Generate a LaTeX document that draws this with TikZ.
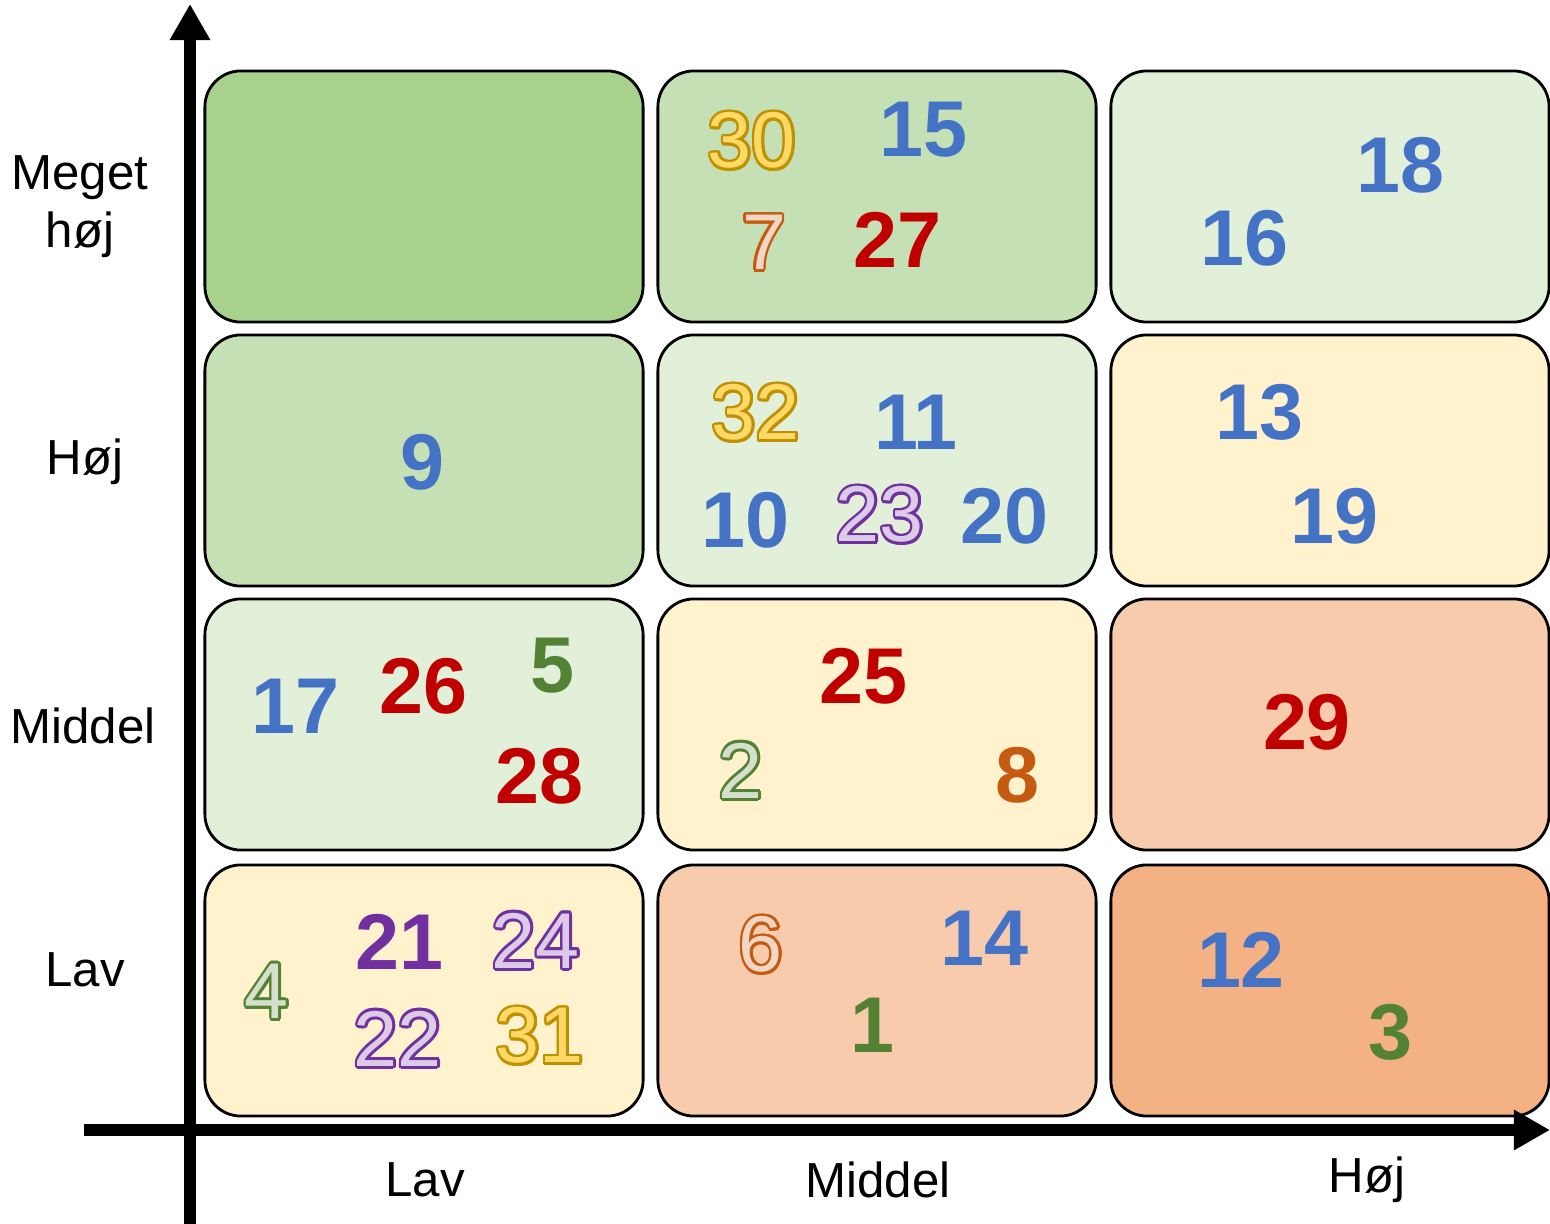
\documentclass[tikz,border=0pt]{standalone}
\usepackage{fontspec}
\setmainfont{Liberation Sans}
\usepackage{contour}
\usetikzlibrary{arrows.meta,positioning}
\definecolor{deepgreen}{HTML}{A9D18E}
\definecolor{midgreen}{HTML}{C5E0B4}
\definecolor{palegreen}{HTML}{E2F0D9}
\definecolor{paleyellow}{HTML}{FFF2CC}
\definecolor{salmon}{HTML}{F8CBAD}
\definecolor{peach}{HTML}{F4B183}
\definecolor{numblue}{HTML}{4472C4}
\definecolor{numred}{HTML}{C00000}
\definecolor{numgreen}{HTML}{548235}
\definecolor{numpurple}{HTML}{7030A0}
\definecolor{numorange}{HTML}{C55A11}
\definecolor{numgold}{HTML}{BF9000}
\definecolor{numyellow}{HTML}{FFD966}
\contourlength{0.8pt}
\newcommand{\goldnum}[1]{\textcolor{numyellow}{\contour{numgold}{#1}}}
\newcommand{\hatchnum}[2]{\textcolor{#1!25}{\contour{#1}{#2}}}
\tikzset{
  cell/.style={draw=black, line width=0.8pt, rounded corners=0.36cm,
               minimum width=4.38cm, minimum height=2.51cm, inner sep=0pt},
  num/.style={font=\fontsize{22.5}{26}\selectfont\bfseries, inner sep=0pt},
  onum/.style={font=\fontsize{22.5}{26}\selectfont, inner sep=0pt},
  axlbl/.style={font=\fontsize{14}{17}\selectfont, align=center},
  axis/.style={line width=0.12cm, -{Triangle[length=0.36cm, width=0.38cm]}}
}

\begin{document}
\begin{tikzpicture}[x=0.01cm,y=-0.01cm]
  \useasboundingbox (0,0) rectangle (1550,1224);

  % risk cells, row by row from the top
  \foreach \r/\yc/\ca/\cb/\cc in {1/196.5/deepgreen/midgreen/palegreen,
                                   2/460.5/midgreen/palegreen/paleyellow,
                                   3/724.5/palegreen/paleyellow/salmon,
                                   4/990.5/paleyellow/salmon/peach}{
    \node[cell, fill=\ca] (c\r1) at (424,\yc) {};
    \node[cell, fill=\cb] (c\r2) at (877,\yc) {};
    \node[cell, fill=\cc] (c\r3) at (1330,\yc) {};
  }

  % axes
  \coordinate (ybot) at (190,1224);
  \coordinate (ytop) at (190,4);
  \coordinate (xleft) at (84,1130);
  \coordinate (xright) at (1550,1130);
  \draw[axis] (ybot) -- (ytop);
  \draw[axis] (xleft) -- (xright);

  \node[axlbl] (ymh) at (80,207) {Meget\\[-0.5pt]høj};
  \node[axlbl] (yh) at (85,462) {Høj};
  \node[axlbl] (ym) at (83,726) {Middel};
  \node[axlbl] (yl) at (85,970) {Lav};
  \node[axlbl] (xl) at (425,1180) {Lav};
  \node[axlbl] (xm) at (878,1180) {Middel};
  \node[axlbl] (xh) at (1367,1180) {Høj};

  % row: meget hoj
  \node[onum] (n30) at (752,142) {\goldnum{30}};
  \node[num, numblue] (n15) at (924,130) {15};
  \node[onum] (n7) at (764,244) {\hatchnum{numorange}{7}};
  \node[num, numred] (n27) at (898,240) {27};
  \node[num, numblue] (n18) at (1401,165) {18};
  \node[num, numblue] (n16) at (1245,238) {16};

  % row: hoj
  \node[num, numblue] (n9) at (423,462) {9};
  \node[onum] (n32) at (756,414) {\goldnum{32}};
  \node[num, numblue] (n11) at (916,422) {11};
  \node[num, numblue] (n10) at (746,520) {10};
  \node[onum] (n23) at (880,516) {\hatchnum{numpurple}{23}};
  \node[num, numblue] (n20) at (1005,516) {20};
  \node[num, numblue] (n13) at (1260,412) {13};
  \node[num, numblue] (n19) at (1335,516) {19};

  % row: middel
  \node[num, numblue] (n17) at (296,706) {17};
  \node[num, numred] (n26) at (424,686) {26};
  \node[num, numgreen] (n5) at (553,666) {5};
  \node[num, numred] (n28) at (540,776) {28};
  \node[num, numred] (n25) at (864,676) {25};
  \node[onum] (n2) at (741,772) {\hatchnum{numgreen}{2}};
  \node[num, numorange] (n8) at (1017,775) {8};
  \node[num, numred] (n29) at (1307,722) {29};

  % row: lav
  \node[onum] (n4) at (267,993) {\hatchnum{numgreen}{4}};
  \node[num, numpurple] (n21) at (400,942) {21};
  \node[onum] (n24) at (536,942) {\hatchnum{numpurple}{24}};
  \node[onum] (n22) at (398,1040) {\hatchnum{numpurple}{22}};
  \node[onum] (n31) at (540,1037) {\goldnum{31}};
  \node[onum] (n6) at (761,946) {\hatchnum{numorange}{6}};
  \node[num, numblue] (n14) at (985,938) {14};
  \node[num, numgreen] (n1) at (872,1025) {1};
  \node[num, numblue] (n12) at (1241,960) {12};
  \node[num, numgreen] (n3) at (1390,1032) {3};
\end{tikzpicture}
\end{document}
